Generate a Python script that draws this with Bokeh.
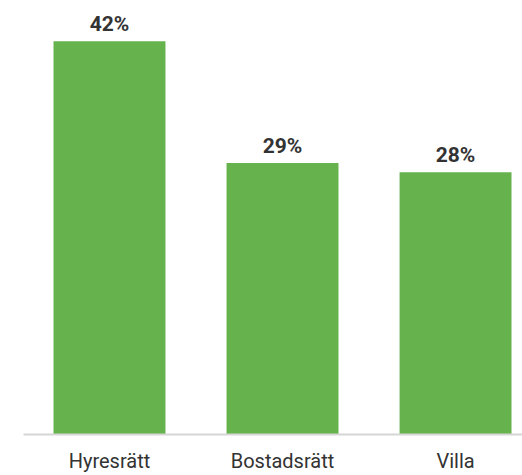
from bokeh.plotting import figure
from bokeh.models import ColumnDataSource, Range1d, FixedTicker
from bokeh.core.properties import value
from bokeh.embed import file_html
from bokeh.resources import INLINE

categories = ["Hyresrätt", "Bostadsrätt", "Villa"]
shares = [42, 29, 28]
labels = ["42%", "29%", "28%"]

xs = list(range(len(categories)))
src = ColumnDataSource(dict(x=xs, top=shares, label=labels))

p = figure(width=522, height=475, output_backend="svg", toolbar_location=None,
           x_range=Range1d(-0.497, 2.387), y_range=Range1d(0, 46.34),
           min_border_left=23, min_border_right=0, min_border_top=0, min_border_bottom=38)
p.outline_line_color = None
p.background_fill_color = "white"
p.border_fill_color = "white"

p.vbar(x="x", top="top", bottom=0, width=0.647, source=src,
       fill_color="#66b34e", line_color=None)

p.text(x="x", y="top", text="label", source=src, text_align="center",
       text_baseline="bottom", y_offset=-5, text_font=value("Roboto"),
       text_font_style="bold", text_font_size="21px", text_color="#333333")

p.yaxis.visible = False
p.xgrid.visible = False
p.ygrid.visible = False
xa = p.xaxis[0]
xa.ticker = FixedTicker(ticks=xs)
xa.major_label_overrides = {i: c for i, c in enumerate(categories)}
xa.axis_line_color = "#d6d6d6"
xa.axis_line_width = 2
xa.major_tick_line_color = None
xa.minor_tick_line_color = None
xa.major_tick_out = 0
xa.major_label_standoff = 14
xa.major_label_text_font = "Roboto"
xa.major_label_text_font_size = "20px"
xa.major_label_text_color = "#333333"

open("out.html", "w").write(file_html(p, INLINE))
